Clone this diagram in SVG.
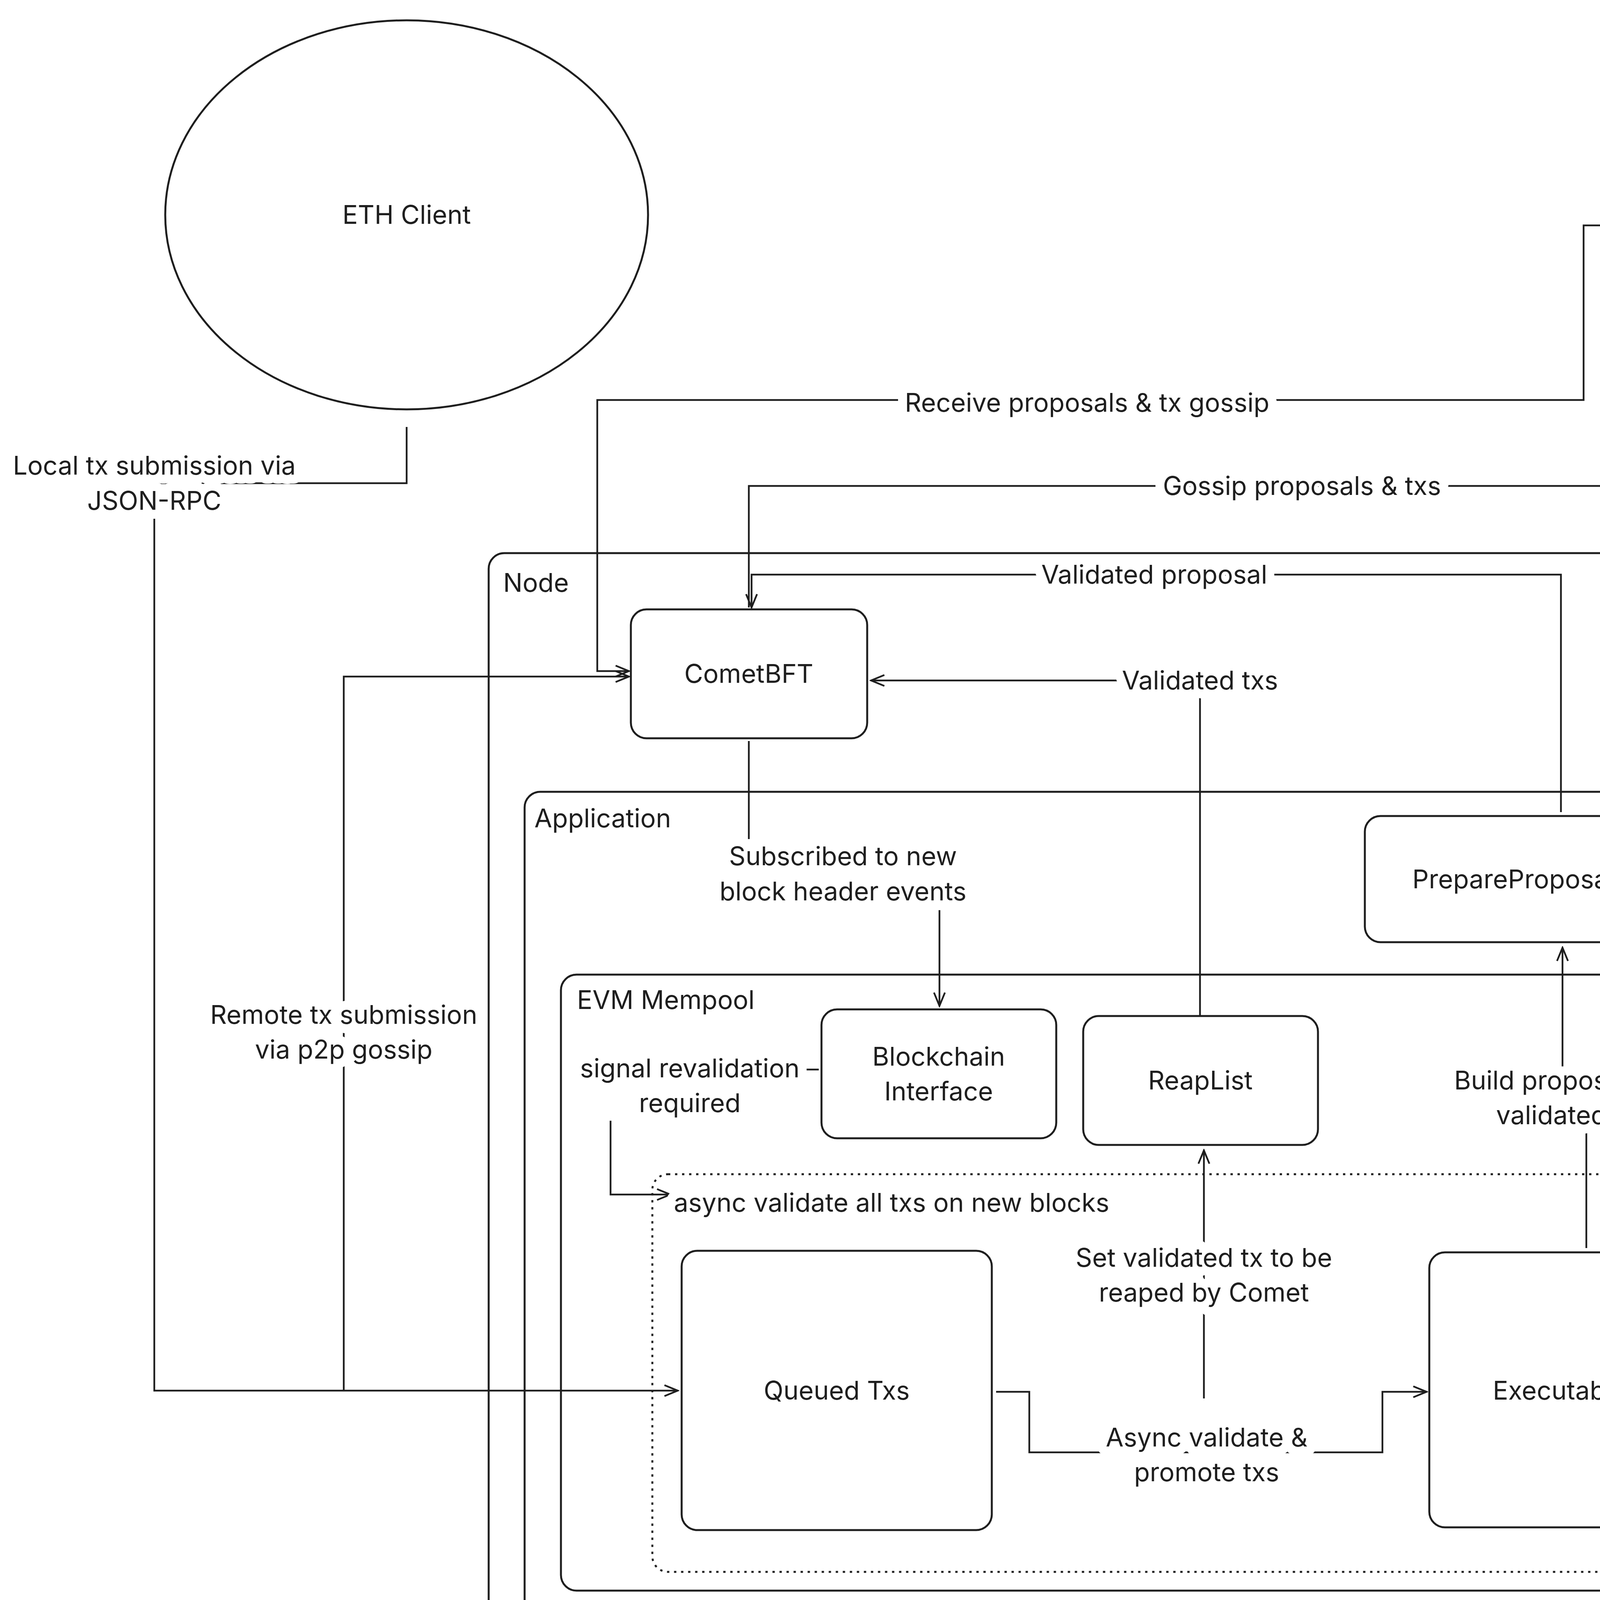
<svg xmlns="http://www.w3.org/2000/svg" width="5388" height="4252" viewBox="0 0 5388 4252">
<style>
.s{fill:none;stroke:#1e1e1e;stroke-width:5}
.n{fill:#fff;stroke:#1e1e1e;stroke-width:5}
.c{fill:none;stroke:#1e1e1e;stroke-width:4.5}
text{font-family:Inter,"Open Sans",sans-serif;font-size:66px;fill:#1e1e1e}
.m{text-anchor:middle}
.l{paint-order:stroke;stroke:#fff;stroke-width:46px;stroke-linejoin:round}
</style>
<defs>
<marker id="a" markerWidth="40" markerHeight="40" refX="36" refY="20" orient="auto" markerUnits="userSpaceOnUse">
<path d="M2,6 L36,20 L2,34" fill="none" stroke="#1e1e1e" stroke-width="4.5"/>
</marker>
</defs>
<rect width="5388" height="4252" fill="#fff"/>
<g id="node-container"><rect class="s" x="1251" y="1416" width="3776" height="2810" rx="40"/><text x="1288" y="1515">Node</text></g>
<g id="application"><rect class="s" x="1343" y="2027" width="3574" height="2131" rx="40"/><text x="1368" y="2118">Application</text></g>
<g id="evm-mempool"><rect class="s" x="1436" y="2495" width="3395" height="1577" rx="40"/><text x="1477" y="2583">EVM Mempool</text></g>
<g id="async-validate"><rect x="1670" y="3006" width="2934" height="1018" rx="40" fill="none" stroke="#1e1e1e" stroke-width="5" stroke-dasharray="6 12"/></g>
<g id="eth-client"><ellipse class="n" cx="1041" cy="550" rx="618" ry="498"/><text class="m" x="1041" y="573">ETH Client</text></g>
<g id="blockchain-network"><ellipse class="n" cx="4752" cy="577" rx="612" ry="533"/><text class="m" x="4752" y="600">Blockchain Network</text></g>
<g id="connectors">
<path class="c" d="M1041,1093 V1237 H395 V3560 H1735" marker-end="url(#a)"/>
<path class="c" d="M880,3560 V1732 H1610" marker-end="url(#a)"/>
<path class="c" d="M4140,577 H4054 V1024 H1529 V1718 H1610" marker-end="url(#a)"/>
<path class="c" d="M1917,1555 V1244 H4759 V1112" marker-end="url(#a)"/>
<path class="c" d="M3996,2079 V1471 H1924 V1555" marker-end="url(#a)"/>
<path class="c" d="M3072,2601 V1742 H2230" marker-end="url(#a)"/>
<path class="c" d="M1917,1897 V2148 M2405,2330 V2575" marker-end="url(#a)"/>
<path class="c" d="M2096,2738 H2062 M1563,2869 V3058 H1716" marker-end="url(#a)"/>
<path class="c" d="M3082,3580 V2945" marker-end="url(#a)"/>
<path class="c" d="M2550,3563 H2635 V3718 H3539 V3563 H3652" marker-end="url(#a)"/>
<path class="c" d="M4061,3195 V2890 M4000,2730 V2426" marker-end="url(#a)"/>
</g>
<g id="labels">
<text class="m l" x="395" y="1215">Local tx submission via</text>
<text class="m l" x="395" y="1305">JSON-RPC</text>
<text class="m l" x="880" y="2621">Remote tx submission</text>
<text class="m l" x="880" y="2710">via p2p gossip</text>
<text class="m l" x="2783" y="1054">Receive proposals &amp; tx gossip</text>
<text class="m l" x="3333" y="1267">Gossip proposals &amp; txs</text>
<text class="m l" x="2955" y="1494">Validated proposal</text>
<text class="m l" x="3072" y="1765">Validated txs</text>
<text class="m l" x="2158" y="2215">Subscribed to new</text>
<text class="m l" x="2158" y="2305">block header events</text>
<text class="m l" x="1766" y="2758">signal revalidation</text>
<text class="m l" x="1766" y="2847">required</text>
<text class="l" x="1725" y="3102">async validate all txs on new blocks</text>
<text class="m l" x="3082" y="3243">Set validated tx to be</text>
<text class="m l" x="3082" y="3332">reaped by Comet</text>
<text class="m l" x="3089" y="3703">Async validate &amp;</text>
<text class="m l" x="3089" y="3792">promote txs</text>
<text class="m l" x="4027" y="2789">Build proposal from</text>
<text class="m l" x="4027" y="2878">validated txs</text>
</g>
<g id="cometbft"><rect class="n" x="1615" y="1560" width="605" height="330" rx="40"/><text class="m" x="1917" y="1748">CometBFT</text></g>
<g id="prepare-proposal"><rect class="n" x="3494" y="2089" width="1007" height="323" rx="40"/><text class="m" x="3997" y="2274">PrepareProposalHandler</text></g>
<g id="blockchain-interface"><rect class="n" x="2103" y="2584" width="601" height="330" rx="40"/><text class="m" x="2403" y="2728">Blockchain</text><text class="m" x="2403" y="2817">Interface</text></g>
<g id="reaplist"><rect class="n" x="2773" y="2601" width="601" height="330" rx="40"/><text class="m" x="3073" y="2789">ReapList</text></g>
<g id="queued-txs"><rect class="n" x="1745" y="3202" width="794" height="715" rx="40"/><text class="m" x="2142" y="3583">Queued Txs</text></g>
<g id="executable-txs"><rect class="n" x="3659" y="3206" width="797" height="704" rx="40"/><text class="m" x="4057" y="3583">Executable Txs</text></g>
</svg>
